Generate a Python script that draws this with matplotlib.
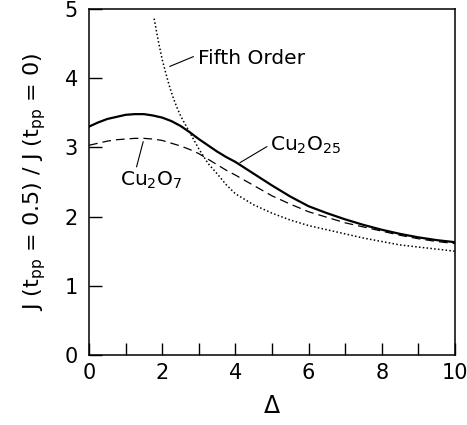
import matplotlib
matplotlib.use("Agg")
import matplotlib.pyplot as plt
from matplotlib.ticker import MultipleLocator

plt.rcParams['font.family'] = ['DejaVu Sans']
plt.rcParams['mathtext.fontset'] = 'dejavusans'

# Cu2O25 (solid)
x_c25 = [0.0, 0.25, 0.5, 0.75, 1.0, 1.25, 1.5, 1.75, 2.0, 2.25, 2.5, 2.75, 3.0, 3.25, 3.5,
         3.75, 4.0, 4.5, 5.0, 5.5, 6.0, 6.5, 7.0, 7.5, 8.0, 8.5, 9.0, 9.5, 10.0]
y_c25 = [3.30, 3.36, 3.41, 3.44, 3.47, 3.48, 3.48, 3.46, 3.43, 3.38, 3.31, 3.22, 3.12, 3.03, 2.94,
         2.86, 2.79, 2.62, 2.45, 2.29, 2.15, 2.05, 1.96, 1.88, 1.81, 1.75, 1.70, 1.66, 1.63]

# Cu2O7 (dashed)
x_c7 = [0.0, 0.25, 0.5, 0.75, 1.0, 1.25, 1.5, 1.75, 2.0, 2.25, 2.5, 2.75, 3.0, 3.25, 3.5,
        3.75, 4.0, 4.5, 5.0, 5.5, 6.0, 6.5, 7.0, 7.5, 8.0, 8.5, 9.0, 9.5, 10.0]
y_c7 = [3.03, 3.06, 3.09, 3.11, 3.12, 3.13, 3.13, 3.12, 3.10, 3.06, 3.02, 2.97, 2.91, 2.83, 2.75,
        2.67, 2.60, 2.45, 2.30, 2.18, 2.07, 1.99, 1.91, 1.85, 1.79, 1.73, 1.68, 1.64, 1.61]

# Fifth order (dotted)
x_f5 = [1.78, 1.9, 2.0, 2.1, 2.2, 2.3, 2.4, 2.5, 2.6, 2.75, 3.0, 3.25, 3.5, 3.75, 4.0, 4.5,
        5.0, 5.5, 6.0, 6.5, 7.0, 7.5, 8.0, 8.5, 9.0, 9.5, 10.0]
y_f5 = [4.86, 4.52, 4.27, 4.07, 3.88, 3.72, 3.58, 3.46, 3.36, 3.22, 2.98, 2.77, 2.62, 2.46, 2.33, 2.17,
        2.05, 1.95, 1.87, 1.81, 1.75, 1.69, 1.64, 1.59, 1.56, 1.53, 1.50]

fig = plt.figure(figsize=(4.67, 4.25), dpi=100)
ax = fig.add_axes([0.1906, 0.1647, 0.7834, 0.8143])

ax.plot(x_c25, y_c25, color='black', lw=1.6, ls='-')
ax.plot(x_c7, y_c7, color='black', lw=0.9, ls=(0, (7, 4)))
ax.plot(x_f5, y_f5, color='black', lw=1.1, ls=(0, (1, 1.5)))

ax.set_xlim(0, 10)
ax.set_ylim(0, 5)
ax.xaxis.set_major_locator(MultipleLocator(2))
ax.xaxis.set_minor_locator(MultipleLocator(1))
ax.yaxis.set_major_locator(MultipleLocator(1))

ax.tick_params(which='both', direction='in', top=False, right=False, length=9, width=1,
               labelsize=15)
ax.tick_params(axis='x', which='both', pad=6)
ax.tick_params(axis='y', which='both', pad=8)
for s in ax.spines.values():
    s.set_linewidth(1.1)

ax.set_xlabel(r'$\Delta$', fontsize=17, labelpad=8)
ax.set_ylabel(r'J (t$_{\rm pp}$ = 0.5) / J (t$_{\rm pp}$ = 0)', fontsize=16, labelpad=12)

# annotations
ax.text(2.98, 4.29, 'Fifth Order', fontsize=14.5, va='center', ha='left')
ax.plot([2.21, 2.85], [4.17, 4.31], color='black', lw=0.8)
ax.text(4.95, 3.03, r'Cu$_2$O$_{25}$', fontsize=14.5, va='center', ha='left')
ax.plot([4.13, 4.86], [2.78, 3.01], color='black', lw=0.8)
ax.text(0.85, 2.53, r'Cu$_2$O$_7$', fontsize=14.5, va='center', ha='left')
ax.plot([1.48, 1.30], [3.08, 2.72], color='black', lw=0.8)

fig.savefig('out.png', dpi=100)
